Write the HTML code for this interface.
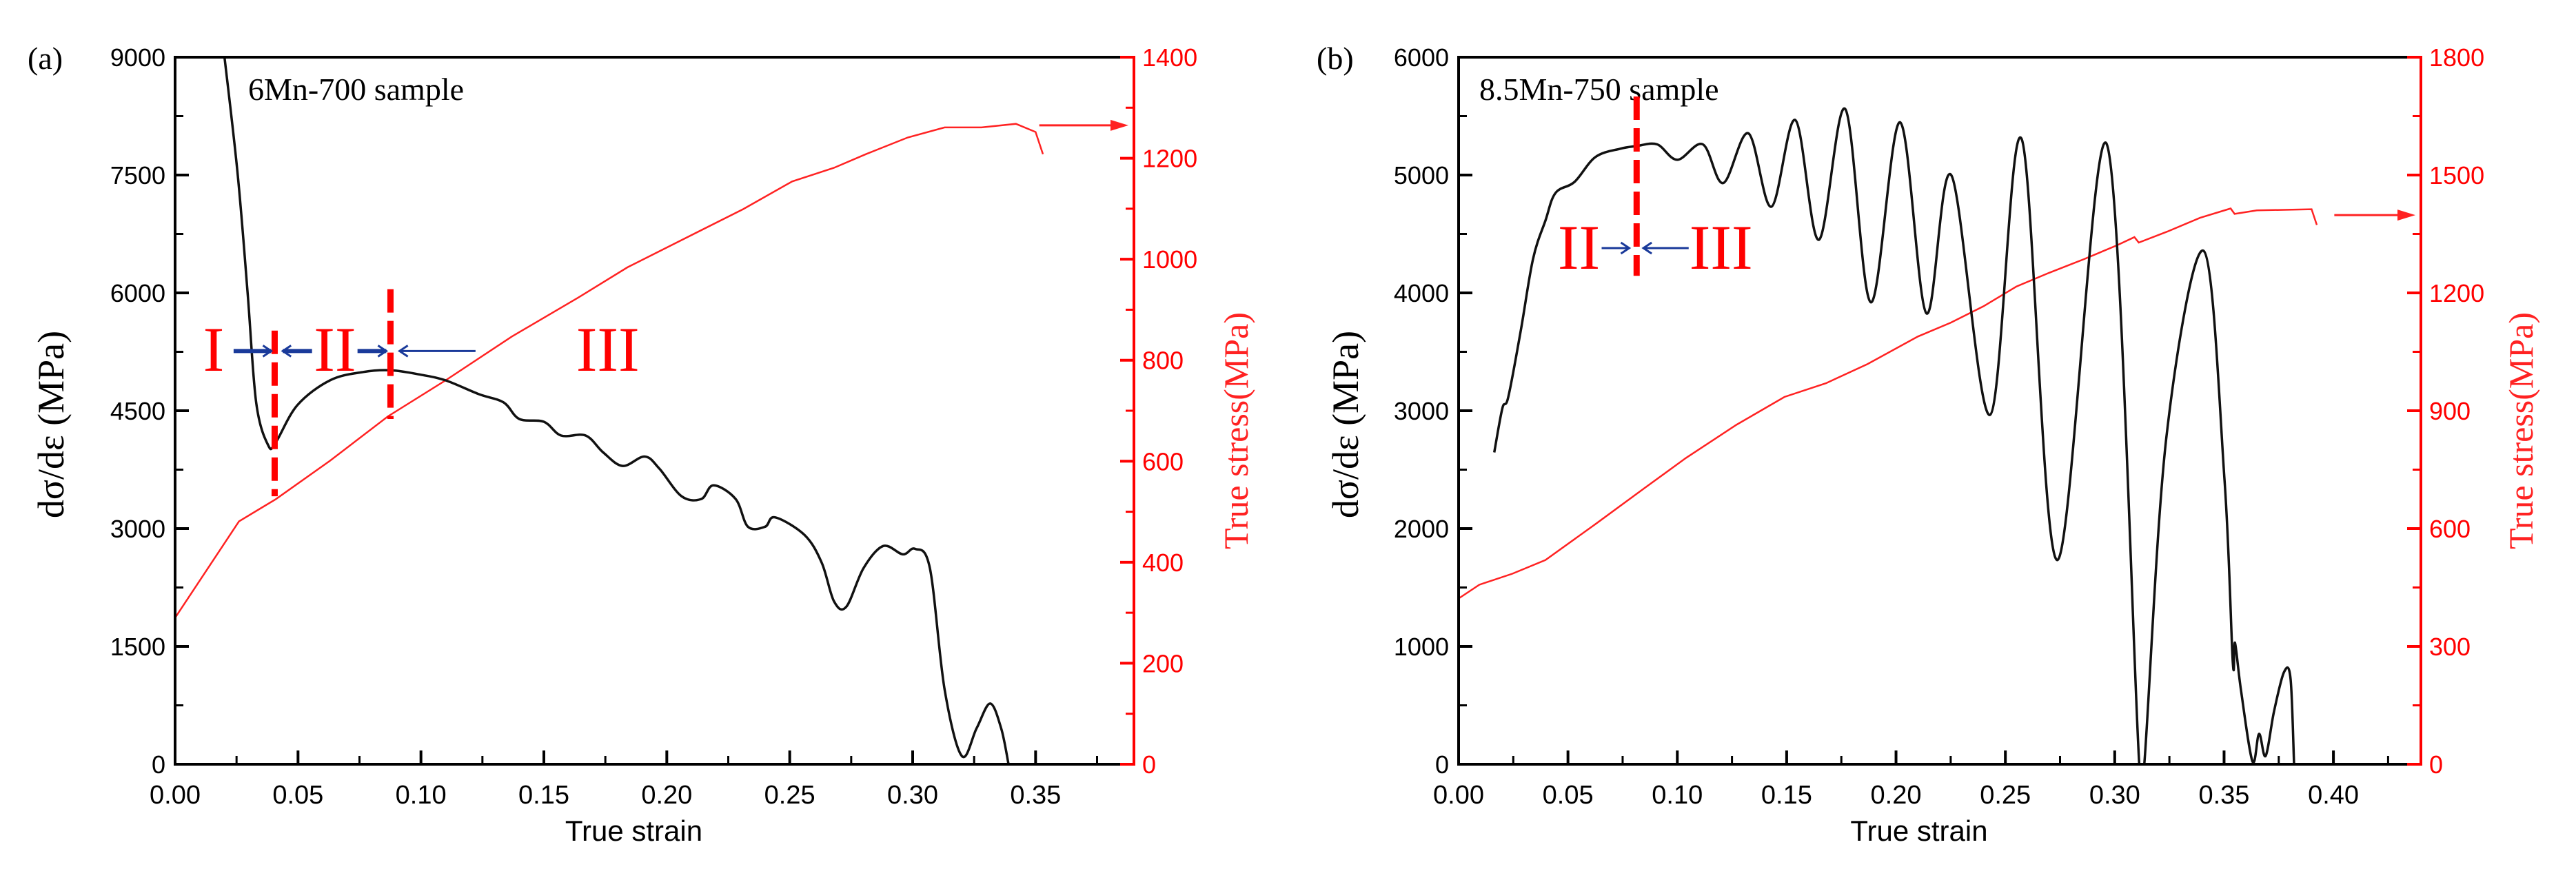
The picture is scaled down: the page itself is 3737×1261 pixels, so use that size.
<!DOCTYPE html>
<html><head><meta charset="utf-8"><style>
html,body{margin:0;padding:0;background:#fff}
svg{display:block}
text{font-family:"Liberation Sans",sans-serif}
.serif{font-family:"Liberation Serif",serif}
</style></head><body>
<svg id="chart" width="3737" height="1261" viewBox="0 0 3737 1261" xmlns="http://www.w3.org/2000/svg"></svg>
<script>
// ---- Panel (a) data ----
const aBlackX = [0.0201,0.0255,0.0295,0.033,0.0379,0.041,0.0497,0.063,0.0765,0.088,0.100,0.110,0.1235,0.1336,0.140,0.150,0.157,0.167,0.174,0.182,0.191,0.197,0.206,0.214,0.219,0.228,0.233,0.240,0.244,0.256,0.263,0.268,0.273,0.280,0.288,0.296,0.301,0.307,0.313,0.320,0.326,0.3315,0.336,0.339];
const aBlackY = [9000,7500,6000,4600,4058,4100,4570,4887,4993,5014,4958,4887,4711,4606,4395,4360,4184,4184,3973,3797,3917,3762,3411,3376,3551,3376,3024,3024,3143,2918,2567,2074,2004,2496,2778,2672,2742,2496,949,105,457,773,457,0];
const aRedX = [0,0.026,0.041,0.063,0.0866,0.110,0.137,0.164,0.184,0.204,0.231,0.251,0.268,0.281,0.298,0.313,0.328,0.342,0.350,0.353];
const aRedY = [290,481,525,601,689,760,847,924,984,1033,1099,1154,1181,1208,1241,1261,1261,1268,1252,1208];
const aLeftTicks = [0,1500,3000,4500,6000,7500,9000];
const aRightTicks = [0,200,400,600,800,1000,1200,1400];
const aXTicks = [0,0.05,0.10,0.15,0.20,0.25,0.30,0.35];
// ---- Panel (b) data ----
const bBlackX = [0.0163,0.020,0.0227,0.0284,0.034,0.0397,0.0443,0.053,0.0625,0.0738,0.0814,0.0908,0.100,0.1117,0.121,0.1325,0.143,0.154,0.1647,0.1768,0.1885,0.2018,0.2139,0.2253,0.243,0.2574,0.2737,0.2964,0.3112,0.3135,0.3237,0.3407,0.3502,0.354,0.355,0.3577,0.363,0.366,0.369,0.3728,0.3774,0.3804,0.382];
const bBlackY = [2646,3021,3115,3677,4286,4614,4848,4942,5152,5223,5246,5260,5129,5260,4932,5354,4731,5466,4450,5560,3920,5448,3827,4998,2965,5307,1733,5260,0,0,2787,4356,2412,866,1030,632,23,258,70,445,782,726,0];
const bRedX = [0,0.0095,0.0246,0.0397,0.0625,0.085,0.104,0.127,0.149,0.168,0.187,0.210,0.225,0.240,0.255,0.270,0.286,0.301,0.309,0.311,0.324,0.339,0.353,0.3548,0.365,0.390,0.3924];
const bRedY = [422,457,485,520,611,703,780,864,935,970,1019,1089,1124,1166,1216,1251,1286,1321,1342,1328,1356,1391,1415,1401,1410,1413,1373];
const bLeftTicks = [0,1000,2000,3000,4000,5000,6000];
const bRightTicks = [0,300,600,900,1200,1500,1800];
const bXTicks = [0,0.05,0.10,0.15,0.20,0.25,0.30,0.35,0.40];

const NS='http://www.w3.org/2000/svg';
const svg=document.getElementById('chart');
function mk(tag,attrs,parent){const e=document.createElementNS(NS,tag);for(const k in attrs)e.setAttribute(k,attrs[k]);(parent||svg).appendChild(e);return e;}
function smooth(pts){
  let d='M'+pts[0][0].toFixed(1)+' '+pts[0][1].toFixed(1);
  for(let i=0;i<pts.length-1;i++){
    const p0=pts[Math.max(0,i-1)],p1=pts[i],p2=pts[i+1],p3=pts[Math.min(pts.length-1,i+2)];
    const c1=[p1[0]+(p2[0]-p0[0])/6,p1[1]+(p2[1]-p0[1])/6];
    const c2=[p2[0]-(p3[0]-p1[0])/6,p2[1]-(p3[1]-p1[1])/6];
    d+=` C${c1[0].toFixed(1)} ${c1[1].toFixed(1)} ${c2[0].toFixed(1)} ${c2[1].toFixed(1)} ${p2[0].toFixed(1)} ${p2[1].toFixed(1)}`;
  }
  return d;
}

function panel(o){
  const g=mk('g',{});
  
  
  const L=o.left,R=o.right,T=83,B=1109;
  const sx=v=>L+(v/o.xmax)*(R-L);
  const sy=v=>B-(v/o.ymax)*(B-T);
  const sy2=v=>B-(v/o.y2max)*(B-T);
  let d=o.redX.map((x,i)=>(i?'L':'M')+sx(x).toFixed(1)+' '+sy2(o.redY[i]).toFixed(1)).join(' ');
  const red=mk('path',{d:d,fill:'none',stroke:'#f22',"stroke-width":2.5},g);
  
  
  const cp=mk('clipPath',{id:'clip-'+o.name},g);
  mk('rect',{x:L,y:T,width:R-L,height:B-T},cp);
  d=smooth(o.blackX.map((x,i)=>[sx(x),sy(o.blackY[i])]));
  const blk=mk('path',{d:d,fill:'none',stroke:'#111',"stroke-width":3.5,"clip-path":`url(#clip-${o.name})`},g);
  
  
  const ax=mk('g',{},g);
  
  
  mk('line',{x1:L,y1:T,x2:R,y2:T,stroke:'#000',"stroke-width":4},ax);
  mk('line',{x1:L,y1:T-2,x2:L,y2:B+2,stroke:'#000',"stroke-width":4},ax);
  mk('line',{x1:L-2,y1:B,x2:R,y2:B,stroke:'#000',"stroke-width":4},ax);
  mk('line',{x1:R,y1:T-2,x2:R,y2:B+2,stroke:'#f00',"stroke-width":4},ax);
  o.xTicks.forEach((v,i)=>{
    mk('line',{x1:sx(v),y1:B,x2:sx(v),y2:B-20,stroke:'#000',"stroke-width":4},ax);
    mk('line',{x1:sx(v+0.025),y1:B,x2:sx(v+0.025),y2:B-12,stroke:'#000',"stroke-width":3},ax);
    const t=mk('text',{x:sx(v),y:1166,"text-anchor":"middle","font-size":38,fill:'#000'},ax);
    t.textContent=v.toFixed(2);
    
    
  });
  const st=o.leftTicks[1];
  o.leftTicks.forEach(v=>{
    mk('line',{x1:L,y1:sy(v),x2:L+20,y2:sy(v),stroke:'#000',"stroke-width":4},ax);
    if(v<o.ymax) mk('line',{x1:L,y1:sy(v+st/2),x2:L+12,y2:sy(v+st/2),stroke:'#000',"stroke-width":3},ax);
    const t=mk('text',{x:L-14,y:sy(v)+13,"text-anchor":"end","font-size":36,fill:'#000'},ax);
    t.textContent=v;
    
    
  });
  const st2=o.rightTicks[1];
  o.rightTicks.forEach(v=>{
    mk('line',{x1:R,y1:sy2(v),x2:R-20,y2:sy2(v),stroke:'#f00',"stroke-width":4},ax);
    if(v<o.y2max) mk('line',{x1:R,y1:sy2(v+st2/2),x2:R-12,y2:sy2(v+st2/2),stroke:'#f00',"stroke-width":3},ax);
    const t=mk('text',{x:R+12,y:sy2(v)+13,"font-size":36,fill:'#f00'},ax);
    t.textContent=v;
    
    
  });
  let t=mk('text',{x:(L+R)/2-30,y:1220,"text-anchor":"middle","font-size":42,fill:'#000'},g);
  t.textContent='True strain';
  
  
  t=mk('text',{x:0,y:0,"text-anchor":"middle","font-size":54,fill:'#000',class:'serif',transform:`translate(${o.ylx},616) rotate(-90)`},g);
  t.textContent='dσ/dε (MPa)';
  
  
  t=mk('text',{x:0,y:0,"text-anchor":"middle","font-size":50,fill:'#f22',class:'serif',transform:`translate(${o.yrx},625) rotate(-90)`},g);
  t.textContent='True stress(MPa)';
  
  
  t=mk('text',{x:o.tagX,y:100,"font-size":46,fill:'#000',class:'serif'},g);
  t.textContent=o.tag;
  
  
  t=mk('text',{x:o.sampleX,y:145,"font-size":46,fill:'#000',class:'serif'},g);
  t.textContent=o.sample;
  
  
  const ay=sy2(o.arrowY);
  mk('line',{x1:sx(o.arrowX0),y1:ay,x2:R-30,y2:ay,stroke:'#f22',"stroke-width":3},g);
  mk('polygon',{points:`${R-8},${ay} ${R-34},${ay-8} ${R-34},${ay+8}`,fill:'#f22'},g);
  o.dashes.forEach(dd=>{
    const l=mk('line',{x1:sx(dd[0]),y1:sy(dd[1]),x2:sx(dd[0]),y2:sy(dd[2]),stroke:'#f00',"stroke-width":9,"stroke-dasharray":"34 12"},g);
    
    
  });
  o.labels.forEach(lb=>{
    const e=mk('text',{x:sx(lb[1]),y:sy(lb[2])+30,"text-anchor":"middle","font-size":92,fill:'#f00',class:'serif'},g);
    e.textContent=lb[0];
    
    
  });
  o.arrows.forEach(a=>{
    const y=sy(a[2]),x0=sx(a[0]),x1=sx(a[1]),dir=Math.sign(x1-x0);
    mk('line',{x1:x0,y1:y,x2:x1,y2:y,stroke:'#1a3a9a',"stroke-width":a[3]||3},g);
    mk('polyline',{points:`${x1-dir*12},${y-8} ${x1},${y} ${x1-dir*12},${y+8}`,fill:'none',stroke:'#1a3a9a',"stroke-width":3},g);
  });
}

panel({name:'panel-a',left:254,right:1645,xmax:0.39,ymax:9000,y2max:1400,
  blackX:aBlackX,blackY:aBlackY,redX:aRedX,redY:aRedY,xTicks:aXTicks,leftTicks:aLeftTicks,rightTicks:aRightTicks,
  ylx:92,yrx:1810,tag:'(a)',tagX:40,sample:'6Mn-700 sample',sampleX:360,
  arrowX0:0.3515,arrowY:1265,
  dashes:[[0.0405,5520,3411],[0.0876,6047,4395]],
  labels:[['I',0.0157,5274],['II',0.065,5274],['III',0.176,5274]],
  arrows:[[0.0238,0.0391,5260,6],[0.0557,0.0438,5260,6],[0.0742,0.0859,5260,6],[0.1222,0.0913,5260,3]]});

panel({name:'panel-b',left:2116,right:3512,xmax:0.44,ymax:6000,y2max:1800,
  blackX:bBlackX,blackY:bBlackY,redX:bRedX,redY:bRedY,xTicks:bXTicks,leftTicks:bLeftTicks,rightTicks:bRightTicks,
  ylx:1970,yrx:3674,tag:'(b)',tagX:1910,sample:'8.5Mn-750 sample',sampleX:2146,
  arrowX0:0.4004,arrowY:1398,
  dashes:[[0.0814,5667,4145]],
  labels:[['II',0.055,4380],['III',0.12,4380]],
  arrows:[[0.0654,0.0780,4380,3],[0.1052,0.0845,4380,3]]});
</script>
</body></html>
